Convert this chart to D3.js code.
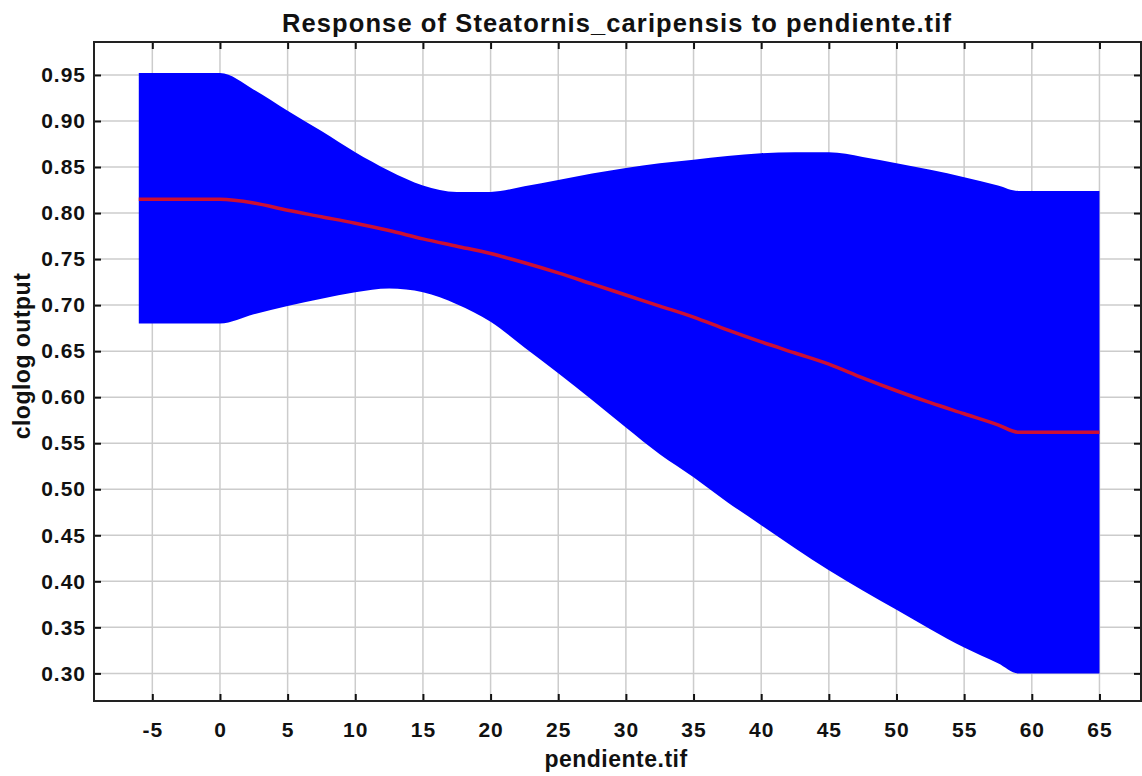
<!DOCTYPE html>
<html>
<head>
<meta charset="utf-8">
<script src="https://cdn.jsdelivr.net/npm/d3@7/dist/d3.min.js"></script>
<style>
  html, body { margin: 0; padding: 0; background: #fff; }
  svg { display: block; }
  text { font-family: "Liberation Sans", Arial, Helvetica, sans-serif; font-weight: bold; fill: #111; }
</style>
</head>
<body>
<svg id="chart" width="1142" height="776"></svg>
<script>
// ---- data ----
const title = "Response of Steatornis_caripensis to pendiente.tif";
const xLabel = "pendiente.tif";
const yLabel = "cloglog output";

const xValues = [-6, 0, 2.5, 5, 7.5, 10, 12.5, 15, 17.5, 20, 22.5, 25, 27.5, 30, 32.5, 35, 37.5, 40, 42.5, 45, 47.5, 50, 52.5, 55, 57.5, 59, 65];
const meanValues = [0.815, 0.815, 0.811, 0.803, 0.796, 0.789, 0.781, 0.772, 0.764, 0.756, 0.746, 0.735, 0.723, 0.711, 0.699, 0.687, 0.673, 0.660, 0.648, 0.636, 0.621, 0.607, 0.594, 0.582, 0.570, 0.562, 0.562];
const upperValues = [0.952, 0.952, 0.934, 0.911, 0.889, 0.866, 0.846, 0.830, 0.823, 0.823, 0.829, 0.836, 0.843, 0.849, 0.854, 0.858, 0.862, 0.865, 0.866, 0.866, 0.861, 0.854, 0.847, 0.839, 0.830, 0.824, 0.824];
const lowerValues = [0.680, 0.680, 0.690, 0.699, 0.707, 0.714, 0.718, 0.714, 0.701, 0.682, 0.654, 0.626, 0.597, 0.567, 0.538, 0.513, 0.486, 0.461, 0.436, 0.412, 0.390, 0.369, 0.348, 0.328, 0.311, 0.300, 0.300];

const xTicks = [-5, 0, 5, 10, 15, 20, 25, 30, 35, 40, 45, 50, 55, 60, 65];
const yTicks = [0.30, 0.35, 0.40, 0.45, 0.50, 0.55, 0.60, 0.65, 0.70, 0.75, 0.80, 0.85, 0.90, 0.95];
const xDomain = [-9.31, 68.07];
const yDomain = [0.27, 0.9858];

// ---- layout ----
const svg = d3.select("#chart");
const L = 94, R = 1141, T = 42, B = 701;

const x = d3.scaleLinear().domain(xDomain).range([L, R]);
const y = d3.scaleLinear().domain(yDomain).range([B, T]);

const rows = xValues.map((v, i) => ({ x: v, m: meanValues[i], lo: lowerValues[i], hi: upperValues[i] }));

// grid
const grid = svg.append("g");
grid.selectAll("line.gx").data(xTicks).join("line")
  .attr("x1", d => x(d)).attr("x2", d => x(d)).attr("y1", T).attr("y2", B)
  .attr("stroke", "#cccccc").attr("stroke-width", 1.5);
grid.selectAll("line.gy").data(yTicks).join("line")
  .attr("y1", d => y(d)).attr("y2", d => y(d)).attr("x1", L).attr("x2", R)
  .attr("stroke", "#cccccc").attr("stroke-width", 1.5);

// band
svg.append("path").datum(rows)
  .attr("d", d3.area().x(d => x(d.x)).y0(d => y(d.lo)).y1(d => y(d.hi)).curve(d3.curveMonotoneX))
  .attr("fill", "#0000ff");

// mean line
svg.append("path").datum(rows)
  .attr("d", d3.line().x(d => x(d.x)).y(d => y(d.m)).curve(d3.curveMonotoneX))
  .attr("fill", "none").attr("stroke", "#cc0f33").attr("stroke-width", 3.5);

// axes with inward ticks
const tickLen = 7;
const axB = svg.append("g").attr("transform", `translate(0,${B})`)
  .call(d3.axisBottom(x).tickValues(xTicks).tickSizeInner(-tickLen).tickSizeOuter(0).tickPadding(21).tickFormat(d => String(d)));
const axT = svg.append("g").attr("transform", `translate(0,${T})`)
  .call(d3.axisTop(x).tickValues(xTicks).tickSizeInner(-tickLen).tickSizeOuter(0).tickFormat(""));
const axL = svg.append("g").attr("transform", `translate(${L},0)`)
  .call(d3.axisLeft(y).tickValues(yTicks).tickSizeInner(-tickLen).tickSizeOuter(0).tickPadding(8).tickFormat(d => d.toFixed(2)));
const axR = svg.append("g").attr("transform", `translate(${R},0)`)
  .call(d3.axisRight(y).tickValues(yTicks).tickSizeInner(-tickLen).tickSizeOuter(0).tickFormat(""));

[axB, axT, axL, axR].forEach(a => {
  a.select(".domain").remove();
  a.selectAll(".tick line").attr("stroke", "#111").attr("stroke-width", 2);
  a.selectAll(".tick text").attr("font-size", 21).attr("font-weight", "bold")
    .attr("letter-spacing", 1)
    .attr("font-family", "Liberation Sans, Arial, sans-serif").attr("fill", "#111");
});

// frame
svg.append("rect").attr("x", L).attr("y", T).attr("width", R - L).attr("height", B - T)
  .attr("fill", "none").attr("stroke", "#222").attr("stroke-width", 2);

// texts
svg.append("text").attr("x", 617).attr("y", 32).attr("text-anchor", "middle")
  .attr("font-size", 25.5).attr("letter-spacing", 1.1).text(title);
svg.append("text").attr("x", 616).attr("y", 767).attr("text-anchor", "middle")
  .attr("font-size", 23).attr("letter-spacing", 0.5).text(xLabel);
svg.append("text").attr("transform", "translate(30,356) rotate(-90)").attr("text-anchor", "middle")
  .attr("font-size", 23).attr("letter-spacing", 0.5).text(yLabel);
</script>
</body>
</html>
